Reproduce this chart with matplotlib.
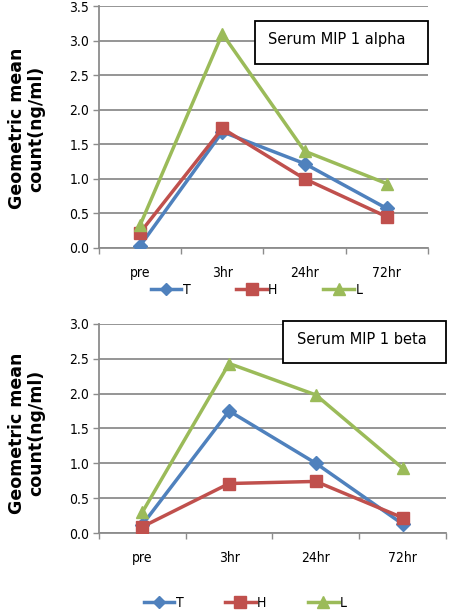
import matplotlib
matplotlib.use('Agg')
import matplotlib.pyplot as plt
from matplotlib.lines import Line2D
from matplotlib.patches import Rectangle
from matplotlib.ticker import MultipleLocator, FixedLocator, NullFormatter

categories = ['pre', '3hr', '24hr', '72hr']
series_names = ['T', 'H', 'L']

# Serum MIP 1 alpha
alpha_T = [0.03, 1.68, 1.22, 0.57]
alpha_H = [0.22, 1.73, 1.00, 0.45]
alpha_L = [0.33, 3.10, 1.40, 0.93]

# Serum MIP 1 beta
beta_T = [0.12, 1.75, 1.00, 0.13]
beta_H = [0.09, 0.71, 0.74, 0.22]
beta_L = [0.30, 2.43, 1.98, 0.93]

colors = ['#4F81BD', '#C0504D', '#9BBB59']
markers = ['D', 's', '^']
msizes = [7, 9, 9]
grid_c = '#8c8c8c'
tick_font = dict(family='DejaVu Sans', stretch='condensed', size=10)

fig = plt.figure(figsize=(4.5, 6.12), dpi=100)


def draw(ax, data, ymax, title, box, text_xy):
    x = range(len(categories))
    for vals, c, m, ms in zip(data, colors, markers, msizes):
        ax.plot(x, vals, color=c, lw=2.5, marker=m, ms=ms, mec=c, mfc=c, zorder=3)
    ax.set_xlim(-0.5, len(categories) - 0.5)
    ax.set_ylim(0, ymax)
    ax.yaxis.set_major_locator(MultipleLocator(0.5))
    ax.set_yticklabels([f'{v:.1f}' for v in ax.get_yticks()], fontdict=tick_font)
    ax.grid(axis='y', color=grid_c, lw=1.3)
    ax.set_axisbelow(True)
    ax.set_xticks(list(x))
    ax.set_xticklabels(categories, fontdict=tick_font)
    ax.tick_params(axis='x', which='major', length=0, pad=13)
    ax.xaxis.set_minor_locator(FixedLocator([i + 0.5 for i in range(-1, len(categories))]))
    ax.xaxis.set_minor_formatter(NullFormatter())
    ax.tick_params(axis='x', which='minor', length=4, color=grid_c, width=1)
    ax.tick_params(axis='y', length=4, color=grid_c, width=1, pad=3)
    for s in ['top', 'right']:
        ax.spines[s].set_visible(False)
    for s in ['left', 'bottom']:
        ax.spines[s].set_color(grid_c)
        ax.spines[s].set_linewidth(1.3)
    x0, y0, x1, y1 = box
    ax.add_patch(Rectangle((x0, y0), x1 - x0, y1 - y0, transform=ax.transAxes,
                           fc='white', ec='black', lw=1.3, zorder=5, clip_on=False))
    ax.text(text_xy[0], text_xy[1], title, transform=ax.transAxes, fontsize=10.5,
            family='DejaVu Sans', va='center', ha='center', zorder=6)


ax1 = fig.add_axes([0.22, 0.595, 0.731, 0.395])
draw(ax1, [alpha_T, alpha_H, alpha_L], 3.5, 'Serum MIP 1 alpha',
     (0.474, 0.760, 1.0, 0.938), (0.723, 0.86))

ax2 = fig.add_axes([0.22, 0.129, 0.771, 0.342])
draw(ax2, [beta_T, beta_H, beta_L], 3.0, 'Serum MIP 1 beta',
     (0.530, 0.813, 1.0, 1.014), (0.758, 0.923))

handles = [Line2D([], [], color=c, lw=2.5, marker=m, ms=ms - 1, mec=c, mfc=c)
           for c, m, ms in zip(colors, markers, msizes)]
fig.legend(handles, series_names, loc='center', bbox_to_anchor=(0.57, 1 - 290 / 612),
           ncol=3, frameon=False, handlelength=2.2, columnspacing=3.3,
           handletextpad=0.1, prop=tick_font)
fig.legend(handles, series_names, loc='center', bbox_to_anchor=(0.545, 1 - 603 / 612),
           ncol=3, frameon=False, handlelength=2.2, columnspacing=3.0,
           handletextpad=0.1, prop=tick_font)

ylab = 'Geometric mean\ncount(ng/ml)'
fig.text(27 / 450, 0.79, ylab, rotation=90, ha='center', va='center',
         fontsize=12.5, fontweight='bold', linespacing=1.1)
fig.text(27 / 450, 0.292, ylab, rotation=90, ha='center', va='center',
         fontsize=12.5, fontweight='bold', linespacing=1.1)

fig.savefig('out.png', dpi=100)
